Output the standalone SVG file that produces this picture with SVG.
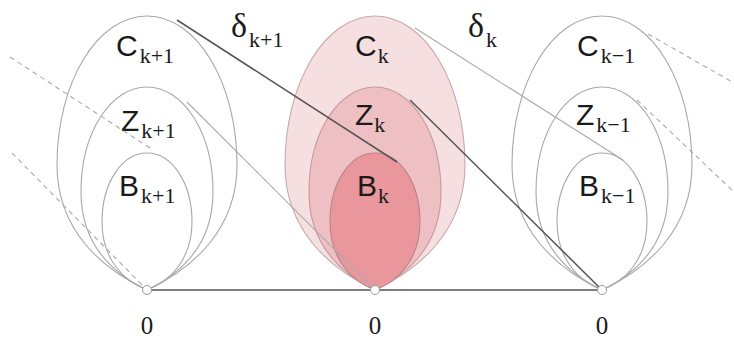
<svg xmlns="http://www.w3.org/2000/svg" width="734" height="339" viewBox="0 0 734 339">
<style>
.egg{fill:none;stroke:#a8a8a8;stroke-width:1.1}
.pc{fill:#f6dfe0;stroke:#c9a9ab;stroke-width:1.1}
.pz{fill:#efc0c3;stroke:#c49a9d;stroke-width:1.1}
.pb{fill:#e9979c;stroke:#b98489;stroke-width:1.1}
.lab{font-family:"Liberation Sans",Arial,sans-serif;font-size:30px;fill:#1a1a1a}
.sub{font-family:"Liberation Serif","Times New Roman",serif;font-size:22px;fill:#1a1a1a}
.del{font-family:"Liberation Serif","Times New Roman",serif;font-size:34px;fill:#1a1a1a}
.zero{font-family:"Liberation Serif","Times New Roman",serif;font-size:25px;fill:#1a1a1a}
.dark{stroke:#555;stroke-width:1.5;fill:none}
.light{stroke:#aaa;stroke-width:1.1;fill:none}
.dash{stroke:#aaa;stroke-width:1.1;fill:none;stroke-dasharray:5 4}
.pt{fill:#fff;stroke:#999;stroke-width:1}
</style>
<defs>
<path id="eC" d="M0,290 C-45,269 -90,230 -90,165 C-90,83 -50,16 0,16 C50,16 90,83 90,165 C90,230 45,269 0,290 Z"/>
<path id="eZ" d="M0,290 C-33,274 -66,245 -66,192 C-66,132 -36,87 0,87 C36,87 66,132 66,192 C66,245 33,274 0,290 Z"/>
<path id="eB" d="M0,290 C-22,282 -45,260 -45,222 C-45,183 -25,153 0,153 C25,153 45,183 45,222 C45,260 22,282 0,290 Z"/>
</defs>
<g id="group-k-plus-1">
<use href="#eC" class="egg" x="147"/>
<use href="#eZ" class="egg" x="147"/>
<use href="#eB" class="egg" x="147"/>
<text class="lab" x="116" y="56">C<tspan class="sub" dx="2" dy="7">k+1</tspan></text>
<text class="lab" x="121" y="131">Z<tspan class="sub" dx="2" dy="7">k+1</tspan></text>
<text class="lab" x="119" y="196">B<tspan class="sub" dx="2" dy="7">k+1</tspan></text>
</g>
<g id="group-k">
<use href="#eC" class="pc" x="375"/>
<use href="#eZ" class="pz" x="375"/>
<use href="#eB" class="pb" x="375"/>
<text class="lab" x="355" y="56">C<tspan class="sub" dx="1" dy="7">k</tspan></text>
<text class="lab" x="355" y="125">Z<tspan class="sub" dx="1" dy="7">k</tspan></text>
<text class="lab" x="357" y="196">B<tspan class="sub" dx="1" dy="7">k</tspan></text>
</g>
<g id="group-k-minus-1">
<use href="#eC" class="egg" x="602"/>
<use href="#eZ" class="egg" x="602"/>
<use href="#eB" class="egg" x="602"/>
<text class="lab" x="577" y="56">C<tspan class="sub" dx="2" dy="7">k−1</tspan></text>
<text class="lab" x="576" y="125">Z<tspan class="sub" dx="2" dy="7">k−1</tspan></text>
<text class="lab" x="579" y="196">B<tspan class="sub" dx="2" dy="7">k−1</tspan></text>
</g>
<g id="connectors">
<line class="dash" x1="10" y1="57" x2="153" y2="150"/>
<line class="dash" x1="12" y1="153" x2="147" y2="290"/>
<line class="dash" x1="648" y1="34" x2="734" y2="83"/>
<line class="dash" x1="637" y1="100" x2="734" y2="192"/>
<line class="light" x1="187" y1="102" x2="375" y2="290"/>
<line class="light" x1="415" y1="28" x2="623" y2="160"/>
<line class="dark" x1="177" y1="20" x2="397" y2="162"/>
<line class="dark" x1="410" y1="100" x2="602" y2="290"/>
<line class="dark" x1="147" y1="290" x2="602" y2="290"/>
</g>
<g id="labels">
<text class="del" x="231" y="37">δ<tspan class="sub" dx="2" dy="10">k+1</tspan></text>
<text class="del" x="468" y="37">δ<tspan class="sub" dx="2" dy="10">k</tspan></text>
<text class="zero" x="147" y="334" text-anchor="middle">0</text>
<text class="zero" x="375" y="334" text-anchor="middle">0</text>
<text class="zero" x="602" y="334" text-anchor="middle">0</text>
</g>
<g id="points">
<circle class="pt" cx="147" cy="290" r="4.5"/>
<circle class="pt" cx="375" cy="290" r="4.5"/>
<circle class="pt" cx="602" cy="290" r="4.5"/>
</g>
</svg>
